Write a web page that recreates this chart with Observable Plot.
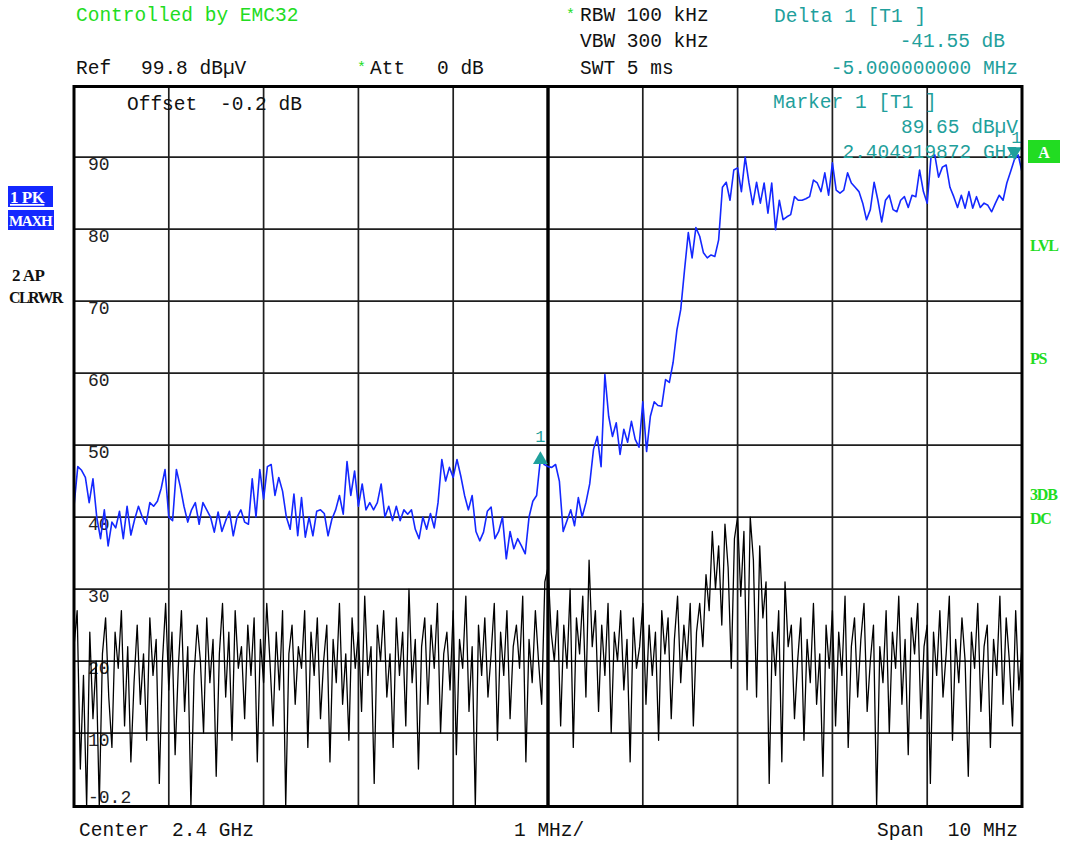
<!DOCTYPE html>
<html><head><meta charset="utf-8">
<script src="https://cdn.jsdelivr.net/npm/d3@7"></script>
<script src="https://cdn.jsdelivr.net/npm/@observablehq/plot@0.6"></script>
<style>
body{margin:0;background:#fff;}
#chart{width:1066px;height:843px;}
</style></head><body><div id="chart"></div>
<script>
// Sweep: 2.395 GHz .. 2.405 GHz (Center 2.4 GHz, Span 10 MHz); x = MHz offset from start
const startMHz = 2395;
const spanMHz = 10;
// Trace 1: PK / MAXH (dBµV), evenly spaced sweep points
const trace1MaxHold = [
41.5,47,46.5,45.5,42,45.3,40,37,41,36,39.3,
38.5,40.8,37,41.5,37.5,39.7,41.5,40,39,42,
41.5,42.2,44,46.6,40,39.5,46.6,44.3,41.5,39.3,
41,42,39,42,41,40,37.9,40.7,38,39.5,
40.8,37.4,40,41,39.3,39,45.3,40,46.6,42.5,
47,47.3,43,45.5,43.6,40,38.3,43.2,37.4,42.7,
37.2,40,37.4,40.8,41,40.5,37.4,39.7,41,43,
40.4,47.7,43,46.4,41.5,44.6,41,42,41,42,
44.6,40,41.5,39.5,41.5,39.5,41,40.4,41,38.3,
37,40,38.3,40.5,38.5,42,48,45,46.9,45.5,
48,45.7,43,41,43,38,36.7,37.9,40.8,41.4,
37,38,40,34.2,38,35.6,37,36,34.9,40,
42.2,43,48.1,47.3,47,46.9,47.3,45,38,39.5,
41,38.8,42.7,40,42,44.6,49.4,51.2,47,59.8,
54,51.2,53.1,48.7,52.2,50.4,53.3,50.8,49.7,56,
49.1,54,56,55.5,55.4,59.1,58.7,61.5,66,68.8,
74.3,79.5,76,80.2,79,76.7,76,76.4,76.2,78.5,
85.8,86.5,84,88.2,88.5,85.2,90,86.4,83.4,86.5,
83.6,86.4,82.2,86.4,79.9,84,81.3,81.7,82,84.5,
84,84,84.2,84.5,86.8,86.4,85.2,87.8,84.7,89.2,
85.4,85,85.4,87.8,86.4,85.8,85.2,83.6,81.3,82.7,
86.5,84,81,84,84.7,82.7,82.4,84,84.5,83,
84.7,84.5,88.2,85.2,83.6,90,90.3,87.2,88.6,88.9,
85.8,84.5,83,84.7,82.9,85.2,82.9,84.5,83,83.6,
83.3,82.4,83.6,84.7,84,86.4,88,89.65,90.3,87.9
];
// Trace 2: AP / CLRWR (dBµV), evenly spaced sweep points
const trace2ClearWrite = [
22,27,5,18,-0.2,24,12,20,-0.2,21,
26,15,8,24,19,27,11,22,6,17,
25,14,21,9,26,18,23,3,20,28,
16,24,7,19,27,13,22,-0.2,18,25,
20,10,26,17,23,4,21,28,15,24,
9,27,19,22,12,25,18,26,6,23,
17,28,20,11,24,16,27,-0.2,21,25,
14,22,19,27,8,24,18,26,12,20,
25,6,23,17,28,14,21,9,26,19,
24,13,29,18,22,3,25,20,27,15,
21,8,26,18,24,11,30,17,23,5,
22,26,14,25,19,28,10,21,24,16,
27,7,23,19,29,13,22,-0.2,25,18,
26,15,21,28,9,24,18,27,12,22,
25,19,29,6,23,17,27,20,14,31,
33,24,20,27,11,25,19,30,8,26,
21,29,15,34,22,27,13,25,18,28,
10,24,20,27,16,23,6,26,19,22,
28,14,25,18,24,9,27,21,26,12,
23,29,17,25,20,28,11,24,28,22,
32,27,38,30,36,25,39,33,19,37,
40,29,38,16,40,34,15,36,26,31,
3,24,18,27,6,31,22,25,12,20,
26,9,23,17,28,14,21,4,25,19,
27,11,24,18,29,8,22,26,15,23,
28,13,20,25,-0.2,22,17,27,10,24,
19,29,14,23,7,26,21,28,12,22,
25,3,24,18,27,15,21,29,9,23,
17,26,20,4,24,19,28,13,22,25,
8,23,18,29,14,26,20,11,27,16,
22
];
const levelGrid = [90,80,70,60,50,40,30,20,10];
const levelLabels = ["90","80","70","60","50","40","30","20","10"];
const bottomLevel = -0.2, refLevel = 99.8;
const freqGrid = [0,1,2,3,4,5,6,7,8,9,10];
const centerOffsetMHz = 5;
const marker1 = [{f: 9.919872, level: 89.65}];          // Marker 1 [T1]
const delta1 = [{f: 9.919872 - 5.0, level: 89.65 - 41.55}]; // Delta 1 [T1]

const toPts = arr => arr.map((v, i) => ({f: i * spanMHz / (arr.length - 1), level: v}));
const pts1 = toPts(trace1MaxHold);
const pts2 = toPts(trace2ClearWrite);

const TEAL = "#1fa09c", GREEN = "#22dc22", BLUE = "#1428ff";
const FONT = "'Liberation Mono', 'DejaVu Sans Mono', monospace";

const chart = Plot.plot({
  width: 1066, height: 843,
  marginLeft: 73.5, marginRight: 44.5, marginTop: 86, marginBottom: 37,
  x: {domain: [0, spanMHz], axis: null},
  y: {domain: [bottomLevel, refLevel], axis: null},
  style: {fontFamily: FONT, background: "#fff"},
  marks: [
    Plot.ruleX(freqGrid, {stroke: "#1e1e1e", strokeWidth: 1.7}),
    Plot.ruleY(levelGrid, {stroke: "#1e1e1e", strokeWidth: 1.7}),
    Plot.ruleX([centerOffsetMHz], {stroke: "#000", strokeWidth: 3.4}),
    Plot.text(levelGrid, {x: 0, y: d => d, text: (d, i) => levelLabels[i], textAnchor: "start", lineAnchor: "top", dx: 14, dy: 0, fontSize: 18, fill: "#222"}),
    Plot.text([bottomLevel], {x: 0, y: d => d, text: d => String(d), textAnchor: "start", lineAnchor: "bottom", dx: 14, dy: -4, fontSize: 18, fill: "#222"}),
    Plot.line(pts2, {x: "f", y: "level", stroke: "#000", strokeWidth: 1.3, clip: true}),
    Plot.line(pts1, {x: "f", y: "level", stroke: BLUE, strokeWidth: 1.6, clip: true}),
    Plot.dot(delta1, {x: "f", y: "level", symbol: "triangle", r: 5.5, fill: TEAL, stroke: "none", dy: 1}),
    Plot.text(delta1, {x: "f", y: "level", text: d => "1", fill: TEAL, fontSize: 17, dy: -22}),
    Plot.dot(marker1, {x: "f", y: "level", symbol: "triangle", rotate: 180, r: 5.5, fill: TEAL, stroke: "none", dy: -8}),
    Plot.text(marker1, {x: "f", y: "level", text: d => "1", fill: TEAL, fontSize: 17, dx: 2, dy: -22}),
    Plot.frame({stroke: "#000", strokeWidth: 3})
  ]
});
document.getElementById("chart").appendChild(chart);

// Instrument annotations around the display (pixel layout of the analyzer screen)
const svg = d3.select(chart);
const g = svg.append("g").attr("font-family", FONT).attr("text-anchor", "start");
const labels = [
  {t: "Controlled by EMC32", x: 76, y: 21, c: GREEN},
  {t: "*", x: 566, y: 19, c: GREEN, s: 15},
  {t: "RBW 100 kHz", x: 580, y: 21, c: "#111"},
  {t: "VBW 300 kHz", x: 580, y: 47, c: "#111"},
  {t: "SWT 5 ms", x: 580, y: 74, c: "#111"},
  {t: "Delta 1 [T1 ]", x: 774, y: 22, c: TEAL},
  {t: "-41.55 dB", x: 1005, y: 47, c: TEAL, a: "end"},
  {t: "-5.000000000 MHz", x: 1018, y: 74, c: TEAL, a: "end"},
  {t: "Ref", x: 76, y: 74, c: "#111"},
  {t: "99.8 dBµV", x: 141, y: 74, c: "#111"},
  {t: "*", x: 357, y: 72, c: GREEN, s: 15},
  {t: "Att", x: 370, y: 74, c: "#111"},
  {t: "0 dB", x: 437, y: 74, c: "#111"},
  {t: "Offset", x: 127, y: 110, c: "#111"},
  {t: "-0.2 dB", x: 220, y: 110, c: "#111"},
  {t: "Marker 1 [T1 ]", x: 773, y: 108, c: TEAL},
  {t: "89.65 dBµV", x: 1018, y: 133, c: TEAL, a: "end"},
  {t: "2.404919872 GHz", x: 1018, y: 158, c: TEAL, a: "end"},
  {t: "Center", x: 79, y: 836, c: "#111"},
  {t: "2.4 GHz", x: 172, y: 836, c: "#111"},
  {t: "1 MHz/", x: 514, y: 836, c: "#111"},
  {t: "Span", x: 877, y: 836, c: "#111"},
  {t: "10 MHz", x: 1018, y: 836, c: "#111", a: "end"}
];
labels.forEach(l => {
  g.append("text").attr("x", l.x).attr("y", l.y).attr("fill", l.c)
    .attr("font-size", l.s || 19.5).attr("text-anchor", l.a || "start").text(l.t);
});

// Trace info boxes (left) and status flags (right)
const side = g.append("g").attr("font-family", "'Liberation Serif', 'DejaVu Serif', serif")
  .attr("font-weight", "bold").attr("text-anchor", "start");
side.append("rect").attr("x", 8).attr("y", 186).attr("width", 45).attr("height", 21).attr("fill", BLUE);
side.append("text").attr("x", 10).attr("y", 203).attr("fill", "#fff").attr("font-size", 17).attr("letter-spacing", -0.5).attr("text-decoration", "underline").text("1 PK");
side.append("rect").attr("x", 8).attr("y", 210).attr("width", 46).attr("height", 20).attr("fill", BLUE);
side.append("text").attr("x", 9).attr("y", 226).attr("fill", "#fff").attr("font-size", 15).attr("letter-spacing", -1.3).text("MAXH");
side.append("text").attr("x", 12).attr("y", 281).attr("fill", "#111").attr("font-size", 17).attr("letter-spacing", -0.5).text("2 AP");
side.append("text").attr("x", 9).attr("y", 303).attr("fill", "#111").attr("font-size", 16).attr("letter-spacing", -1.6).text("CLRWR");
side.append("rect").attr("x", 1028).attr("y", 140).attr("width", 32).attr("height", 23).attr("fill", GREEN);
side.append("text").attr("x", 1044).attr("y", 158).attr("fill", "#fff").attr("font-size", 16).attr("text-anchor", "middle").text("A");
[["LVL", 251], ["PS", 364], ["3DB", 500], ["DC", 524]].forEach(([t, y]) => {
  side.append("text").attr("x", 1030).attr("y", y).attr("fill", GREEN).attr("font-size", 16).attr("letter-spacing", -1.2).text(t);
});
</script>
</body></html>
